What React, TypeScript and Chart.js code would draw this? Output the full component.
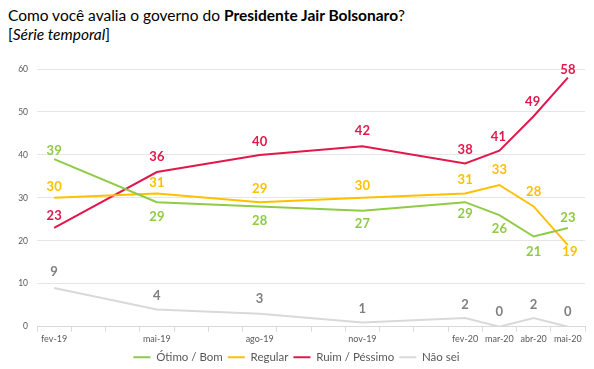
import React, { useEffect, useRef } from "react";
import { Chart, registerables } from "chart.js";

Chart.register(...registerables);

const months = [
  "fev-19", "mar-19", "abr-19", "mai-19", "jun-19", "jul-19", "ago-19", "set-19",
  "out-19", "nov-19", "dez-19", "jan-20", "fev-20", "mar-20", "abr-20", "mai-20",
];
const surveyMonths = ["fev-19", "mai-19", "ago-19", "nov-19", "fev-20", "mar-20", "abr-20", "mai-20"];

const otimoBom = [39, 29, 28, 27, 29, 26, 21, 23];
const regular = [30, 31, 29, 30, 31, 33, 28, 19];
const ruimPessimo = [23, 36, 40, 42, 38, 41, 49, 58];
const naoSei = [9, 4, 3, 1, 2, 0, 2, 0];

const yTicks = [0, 10, 20, 30, 40, 50, 60];

const spread = (vals: number[]) =>
  months.map((m) => {
    const i = surveyMonths.indexOf(m);
    return i >= 0 ? vals[i] : null;
  });

const FONT = "Lato, 'Open Sans', sans-serif";

const labelPlugin = {
  id: "pointLabels",
  afterDatasetsDraw(chart: any) {
    const ctx = chart.ctx;
    ctx.save();
    chart.data.datasets.forEach((ds: any, di: number) => {
      const meta = chart.getDatasetMeta(di);
      let k = 0;
      meta.data.forEach((pt: any, i: number) => {
        const v = ds.data[i];
        if (v === null || v === undefined) return;
        const off = ds.labelOffsets[k] || [0, -14];
        k++;
        ctx.font = `bold 13px ${FONT}`;
        ctx.fillStyle = ds.labelColor;
        ctx.textAlign = "center";
        ctx.textBaseline = "middle";
        ctx.fillText(String(v), pt.x + off[0], pt.y + off[1]);
      });
    });
    ctx.restore();
  },
};

const mkSet = (label: string, vals: number[], color: string, labelColor: string, offs: number[][]) => ({
  label,
  data: spread(vals),
  borderColor: color,
  backgroundColor: color,
  borderWidth: 2,
  pointBorderColor: color,
  pointBackgroundColor: color,
  pointBorderWidth: 2,
  labelColor,
  labelOffsets: offs,
});

export default function App() {
  const ref = useRef<HTMLCanvasElement>(null);
  useEffect(() => {
    if (!ref.current) return;
    const chart = new Chart(ref.current, {
      type: "line",
      data: {
        labels: months,
        datasets: [
          mkSet("Ótimo / Bom", otimoBom, "#8FCB45", "#8FCB45",
            [[0, -8], [0, 15], [0, 14], [0, 13], [0, 12], [0, 14], [0, 15], [0, -10]]),
          mkSet("Regular", regular, "#FFC000", "#FFC000",
            [[0, -11], [0, -11], [0, -13], [0, -12], [0, -14], [0, -15], [0, -15], [2, 7]]),
          mkSet("Ruim / Péssimo", ruimPessimo, "#E2184C", "#E2184C",
            [[0, -12], [0, -15], [0, -13], [0, -15], [0, -14], [-1, -14], [-1, -14], [0, -8]]),
          mkSet("Não sei", naoSei, "#D9D9D9", "#7F7F7F",
            [[0, -16], [0, -14], [0, -15], [0, -14], [0, -13], [0, -15], [0, -13], [0, -15]]),
        ] as any,
      },
      options: {
        animation: false,
        responsive: true,
        maintainAspectRatio: false,
        spanGaps: true,
        elements: {
          line: { borderWidth: 2, tension: 0 },
          point: { radius: 0, hoverRadius: 0 },
        },
        layout: { padding: { top: 23, right: 1, left: 0, bottom: 0 } },
        scales: {
          x: {
            type: "category",
            offset: true,
            grid: {
              display: true,
              drawOnChartArea: false,
              drawTicks: true,
              tickLength: 5,
              color: "#D9D9D9",
              offset: true,
            },
            border: { display: true, color: "#D9D9D9", width: 1 },
            ticks: {
              autoSkip: false,
              maxRotation: 0,
              padding: 2,
              color: "#595959",
              font: { family: FONT, size: 9 },
              callback: function (this: any, _v: any, i: number) {
                const m = months[i];
                return surveyMonths.includes(m) ? m : "";
              },
            },
          },
          y: {
            min: 0,
            max: 60,
            afterFit: (s: any) => {
              s.width = 29;
            },
            afterBuildTicks: (s: any) => {
              s.ticks = yTicks.map((v) => ({ value: v }));
            },
            grid: { color: "#E6E6E6", drawTicks: false, lineWidth: 1 },
            border: { display: false },
            ticks: {
              padding: 9,
              color: "#595959",
              font: { family: FONT, size: 8.5 },
            },
          },
        },
        plugins: {
          legend: {
            position: "bottom",
            labels: {
              usePointStyle: true,
              pointStyle: "line",
              pointStyleWidth: 17,
              color: "#595959",
              padding: 5,
              font: { family: FONT, size: 11.5 },
              generateLabels: (c: any) =>
                c.data.datasets.map((ds: any, i: number) => ({
                  text: ds.label,
                  fillStyle: ds.borderColor,
                  strokeStyle: ds.borderColor,
                  lineWidth: 2,
                  pointStyle: "line",
                  fontColor: "#595959",
                  hidden: false,
                  datasetIndex: i,
                })),
            },
          },
          tooltip: { enabled: false },
        },
      },
      plugins: [labelPlugin],
    });
    return () => chart.destroy();
  }, []);

  return (
    <div style={{ fontFamily: FONT, color: "#000" }}>
      <div style={{ fontSize: 15.5, lineHeight: "19px", marginTop: -2 }}>
        Como você avalia o governo do <b>Presidente Jair Bolsonaro</b>?
        <br />[<i>Série temporal</i>]
      </div>
      <div style={{ position: "relative", height: 327, marginTop: 2 }}>
        <canvas ref={ref} />
      </div>
    </div>
  );
}
